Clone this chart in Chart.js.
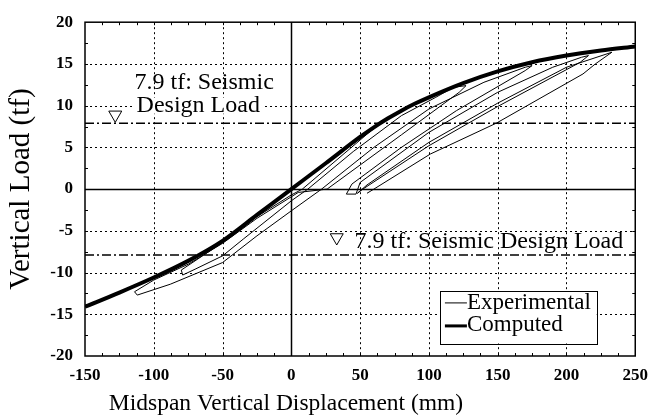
<!DOCTYPE html>
<html>
<head>
<meta charset="utf-8">
<script src="https://cdn.jsdelivr.net/npm/chart.js@4.4.0/dist/chart.umd.min.js"></script>
<style>
  html, body { margin: 0; padding: 0; background: #fff; }
  #wrap { width: 657px; height: 420px; }
</style>
</head>
<body>
<div id="wrap"><canvas id="chart"></canvas></div>
<script>
// axis ticks
const xTicks = [-150, -100, -50, 0, 50, 100, 150, 200, 250];
const yTicks = [-20, -15, -10, -5, 0, 5, 10, 15, 20];
const designLoad = 7.9;

// computed envelope (mm, tf)
const computedX = [-150, -125, -100, -75, -50, -25, 0, 25, 50, 60, 70, 80, 90, 100, 125, 150, 175, 200, 225, 250];
const computedY = [-14.1, -12.4, -10.6, -8.6, -6.2, -3.1, 0, 3.1, 6.25, 7.4, 8.45, 9.4, 10.25, 11.0, 12.7, 14.1, 15.2, 16.0, 16.6, 17.1];

// experimental loading path in test order
const experimentalX = [
  0, 30, 62, 58, 8, 0, -25, -50, -80, -79, -70, -50, -35, 0, 12,
  45, 80, 105, 118, 127, 122, 80, 26, 5, -25, -50, -75, -100, -114, -112,
  -88, -50, -25, 0, 22, 60, 100, 140, 170, 175, 170, 120, 80, 44, 40, 47,
  50, 100, 150, 190, 211, 216, 210, 150, 100, 52, 48, 55,
  100, 150, 200, 233, 221, 212, 149, 101, 60, 55
];
const experimentalY = [
  0, 3.6, 7.5, 7.0, 0, -0.7, -3.3, -6.4, -9.7, -10.3, -9.6, -8.0, -6.0, -1.4, 0,
  4.5, 8.8, 11.0, 12.2, 12.4, 11.6, 6.5, 0, -0.4, -3.5, -6.5, -9.0, -10.9, -12.3, -12.7,
  -11.4, -8.8, -5.6, -2.6, 0, 5.0, 9.6, 12.8, 14.6, 14.8, 14.2, 9.4, 5.0, 0.6, -0.6, -0.6,
  0.8, 6.8, 11.6, 14.6, 15.8, 16.0, 15.2, 9.9, 5.2, 0, -0.5, 0.5,
  5.6, 10.3, 14.6, 16.4, 15.0, 13.8, 7.9, 4.2, 0, -0.5
];

// triangle markers for design load notes
const markerX = [-128, 33];
const markerY = [8.9, -5.8];

const toPoints = (xs, ys) => xs.map((v, i) => ({ x: v, y: ys[i] }));

const serif = 'Liberation Serif';

const figurePlugin = {
  id: 'figure',
  beforeDatasetsDraw(chart) {
    const { ctx, chartArea: a, scales: { x, y } } = chart;
    ctx.save();
    ctx.strokeStyle = '#000';
    // grid lines
    xTicks.slice(1, -1).forEach(v => {
      const px = Math.round(x.getPixelForValue(v)) + 0.5;
      ctx.setLineDash(v === 0 ? [] : [2, 3]);
      ctx.lineWidth = v === 0 ? 1.5 : 1;
      ctx.beginPath(); ctx.moveTo(px, a.top); ctx.lineTo(px, a.bottom); ctx.stroke();
    });
    yTicks.slice(1, -1).forEach(v => {
      const py = Math.round(y.getPixelForValue(v)) + 0.5;
      ctx.setLineDash(v === 0 ? [] : [2, 3]);
      ctx.lineWidth = v === 0 ? 1.5 : 1;
      ctx.beginPath(); ctx.moveTo(a.left, py); ctx.lineTo(a.right, py); ctx.stroke();
    });
    ctx.setLineDash([]);

    // design load notes
    ctx.font = '24px "' + serif + '"';
    ctx.textBaseline = 'middle';
    ctx.textAlign = 'left';
    const notes = [
      ['7.9 tf: Seismic', -114, 12.8, false],
      ['Design Load', -112.5, 10.0, true],
      ['7.9 tf: Seismic Design Load', 46, -6.25, false]
    ];
    notes.forEach(([t, vx, vy, mask]) => {
      const px = x.getPixelForValue(vx), py = y.getPixelForValue(vy);
      if (mask) {
        ctx.fillStyle = '#fff';
        ctx.fillRect(px - 3, py - 8, ctx.measureText(t).width + 6, 16);
      }
      ctx.fillStyle = '#000';
      ctx.fillText(t, px, py);
    });
    ctx.restore();
  },
  afterDatasetsDraw(chart) {
    const { ctx, chartArea: a, scales: { x, y } } = chart;
    ctx.save();
    ctx.strokeStyle = '#000';
    ctx.lineWidth = 1.5;
    ctx.strokeRect(a.left, a.top, a.right - a.left, a.bottom - a.top);

    // minor inner ticks
    ctx.lineWidth = 1;
    for (let v = -17.5; v < 20; v += 2.5) {
      const py = Math.round(y.getPixelForValue(v)) + 0.5;
      ctx.beginPath();
      ctx.moveTo(a.left, py); ctx.lineTo(a.left + 3, py);
      ctx.moveTo(a.right, py); ctx.lineTo(a.right - 3, py);
      ctx.stroke();
    }
    for (let v = -137.5; v < 250; v += 12.5) {
      const px = Math.round(x.getPixelForValue(v)) + 0.5;
      ctx.beginPath();
      ctx.moveTo(px, a.bottom); ctx.lineTo(px, a.bottom - 3);
      ctx.moveTo(px, a.top); ctx.lineTo(px, a.top + 3);
      ctx.stroke();
    }

    // legend
    const l = x.getPixelForValue(108), r = x.getPixelForValue(222);
    const t = y.getPixelForValue(-12.2), b = y.getPixelForValue(-18.5);
    ctx.fillStyle = '#fff';
    ctx.fillRect(l, t, r - l, b - t);
    ctx.lineWidth = 1;
    ctx.strokeRect(Math.round(l) + 0.5, Math.round(t) + 0.5, Math.round(r - l), Math.round(b - t));
    ctx.fillStyle = '#000';
    ctx.font = '23px "' + serif + '"';
    ctx.textBaseline = 'middle';
    ctx.textAlign = 'left';
    ctx.lineWidth = 1;
    ctx.beginPath(); ctx.moveTo(l + 5, t + 12); ctx.lineTo(l + 27, t + 12); ctx.stroke();
    ctx.fillText('Experimental', l + 27, t + 12);
    ctx.lineWidth = 3;
    ctx.beginPath(); ctx.moveTo(l + 5, t + 35); ctx.lineTo(l + 27, t + 35); ctx.stroke();
    ctx.fillText('Computed', l + 27, t + 34);

    // x axis title
    ctx.font = '23.5px "' + serif + '"';
    ctx.textAlign = 'center';
    ctx.fillText('Midspan Vertical Displacement (mm)', 286, 404);
    ctx.restore();
  }
};

new Chart(document.getElementById('chart'), {
  type: 'scatter',
  data: {
    datasets: [
      {
        label: 'Computed',
        data: toPoints(computedX, computedY),
        showLine: true,
        borderColor: '#000',
        borderWidth: 4,
        pointRadius: 0,
        cubicInterpolationMode: 'monotone',
        order: 0
      },
      {
        label: 'Experimental',
        data: toPoints(experimentalX, experimentalY),
        showLine: true,
        borderColor: '#000',
        borderWidth: 1,
        pointRadius: 0,
        order: 1
      },
      {
        label: 'Design load +',
        data: [{ x: xTicks[0], y: designLoad }, { x: xTicks[xTicks.length - 1], y: designLoad }],
        showLine: true,
        borderColor: '#000',
        borderWidth: 1.5,
        borderDash: [9, 3, 2, 3],
        pointRadius: 0,
        order: 2
      },
      {
        label: 'Design load -',
        data: [{ x: xTicks[0], y: -designLoad }, { x: xTicks[xTicks.length - 1], y: -designLoad }],
        showLine: true,
        borderColor: '#000',
        borderWidth: 1.5,
        borderDash: [9, 3, 2, 3],
        pointRadius: 0,
        order: 2
      },
      {
        label: 'markers',
        data: toPoints(markerX, markerY),
        pointStyle: 'triangle',
        rotation: 180,
        radius: 7.5,
        borderColor: '#000',
        borderWidth: 1,
        backgroundColor: 'rgba(0,0,0,0)',
        order: 3
      }
    ]
  },
  options: {
    responsive: true,
    maintainAspectRatio: false,
    animation: false,
    layout: { padding: { left: 0, right: 17, top: 17, bottom: 0 } },
    plugins: {
      legend: { display: false },
      tooltip: { enabled: false }
    },
    scales: {
      x: {
        type: 'linear',
        min: -150,
        max: 250,
        afterBuildTicks: s => { s.ticks = xTicks.map(v => ({ value: v })); },
        afterFit: s => { s.height = 64; },
        grid: { display: false, drawTicks: false },
        border: { display: false },
        ticks: {
          color: '#000',
          maxRotation: 0,
          padding: 9,
          font: { family: serif, size: 17, weight: 'bold' }
        }
      },
      y: {
        type: 'linear',
        min: -20,
        max: 20,
        afterBuildTicks: s => { s.ticks = yTicks.map(v => ({ value: v })); },
        afterFit: s => { s.width = 85; },
        grid: { display: false, drawTicks: false },
        border: { display: false },
        ticks: {
          color: '#000',
          padding: 12,
          font: { family: serif, size: 17, weight: 'bold' }
        },
        title: {
          display: true,
          text: 'Vertical Load (tf)',
          color: '#000',
          padding: { top: 4, bottom: 0 },
          font: { family: serif, size: 29 }
        }
      }
    }
  },
  plugins: [figurePlugin]
});
</script>
</body>
</html>
